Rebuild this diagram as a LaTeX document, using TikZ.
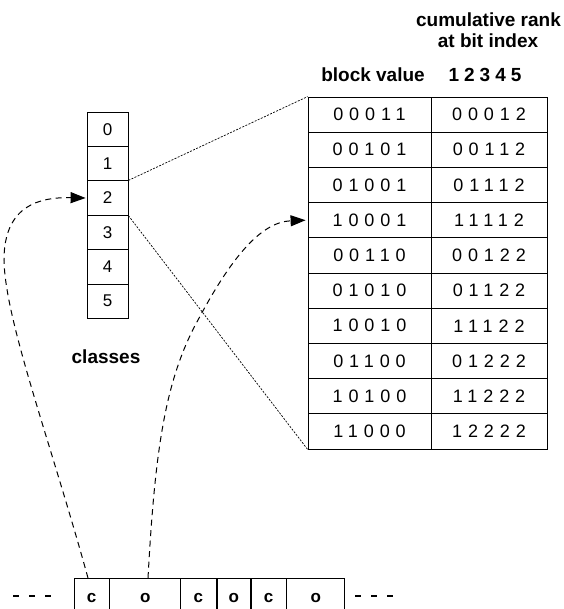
\documentclass[tikz,border=0pt]{standalone}
\usepackage{fontspec}
\setmainfont{Liberation Sans}
\newfontfamily\spfont[LetterSpace=33]{Liberation Sans}
\usetikzlibrary{arrows.meta}
\begin{document}
\begin{tikzpicture}[x=1pt,y=-1pt,
  cell/.style={draw,line width=0.8pt,minimum width=41pt,minimum height=34.4pt,inner sep=0pt,font=\fontsize{17}{20}\selectfont},
  tcell/.style={draw,line width=0.8pt,minimum height=35.2pt,inner sep=0pt,font=\spfont\fontsize{18}{20}\selectfont},
  scell/.style={draw,line width=0.8pt,minimum height=40pt,inner sep=0pt,anchor=north,font=\bfseries\fontsize{17}{20}\selectfont},
  hdr/.style={font=\bfseries\fontsize{19}{22}\selectfont,inner sep=0pt},
  dotl/.style={line width=0.7pt,dash pattern=on 2pt off 1.4pt},
  dashl/.style={line width=1pt,dash pattern=on 6pt off 4.5pt,-{Triangle[length=15pt,width=11pt]}}]
\useasboundingbox (0,0) rectangle (563,609);
% classes column
\foreach \i in {0,...,5}{
  \node[cell] (k\i) at (107.5,{129.2+34.4*\i}) {\i};
}
\node[hdr] (cls) at (106,357) {classes};
% headers
\node[hdr] (h1) at (488.5,20) {cumulative rank};
\node[hdr] (h2) at (488,41) {at bit index};
\node[hdr] (hb) at (373,75) {block value};
\node[hdr] (hi) at (485,75) {1\hspace{5pt}2\hspace{5pt}3\hspace{5pt}4\hspace{5pt}5};
% table
\foreach \a/\b [count=\r from 0] in {00011/00012,00101/00112,01001/01112,10001/11112,00110/00122,01010/01122,10010/11122,01100/01222,10100/11222,11000/12222}{
  \node[tcell,minimum width=123pt] (a\r) at (369.5,{114.6+35.2*\r}) {\a\hspace{-6pt}};
  \node[tcell,minimum width=116pt] (b\r) at (489,{114.6+35.2*\r}) {\b\hspace{-6pt}};
}
% dotted connectors
\draw[dotl] (k2.north east) -- (a0.north west);
\draw[dotl] (k2.south east) -- (a9.south west);
% bottom strip
\node[scell,minimum width=35pt] (s1) at (91.5,578) {\raisebox{-6pt}{c}};
\node[scell,minimum width=71pt,anchor=north west] (s2) at (s1.north east) {\raisebox{-6pt}{o}};
\node[scell,minimum width=36pt,anchor=north west] (s3) at (180,578) {\raisebox{-6pt}{c}};
\node[scell,minimum width=33pt,anchor=north west] (s4) at (s3.north east) {\raisebox{-6pt}{o}};
\node[scell,minimum width=35pt,anchor=north west] (s5) at (s4.north east) {\raisebox{-6pt}{c}};
\node[scell,minimum width=58pt,anchor=north west] (s6) at (s5.north east) {\raisebox{-6pt}{o}};
\draw[line width=0.8pt] (s2.north east) -- (s3.north west);
\draw[line width=0.8pt] (s2.south east) -- (s3.south west);
\coordinate (l1) at (13,596);
\coordinate (l2) at (60,596);
\coordinate (r1) at (355,596);
\coordinate (r2) at (400,596);
\draw[line width=1.6pt,dash pattern=on 6pt off 10pt] (l1) -- (l2);
\draw[line width=1.6pt,dash pattern=on 6pt off 10pt] (r1) -- (r2);
% dashed arrows
\coordinate (c1) at (88,578);
\coordinate (o1) at (148,578);
\draw[dashl] (c1) .. controls (50,440) and (5,320) .. (4,260) .. controls (4,205) and (40,197) .. ([xshift=-1pt]k2.west);
\draw[dashl] (o1) .. controls (155,450) and (165,380) .. (198,320) .. controls (230,260) and (260,222) .. ([xshift=-2pt]a3.west);
\end{tikzpicture}
\end{document}
